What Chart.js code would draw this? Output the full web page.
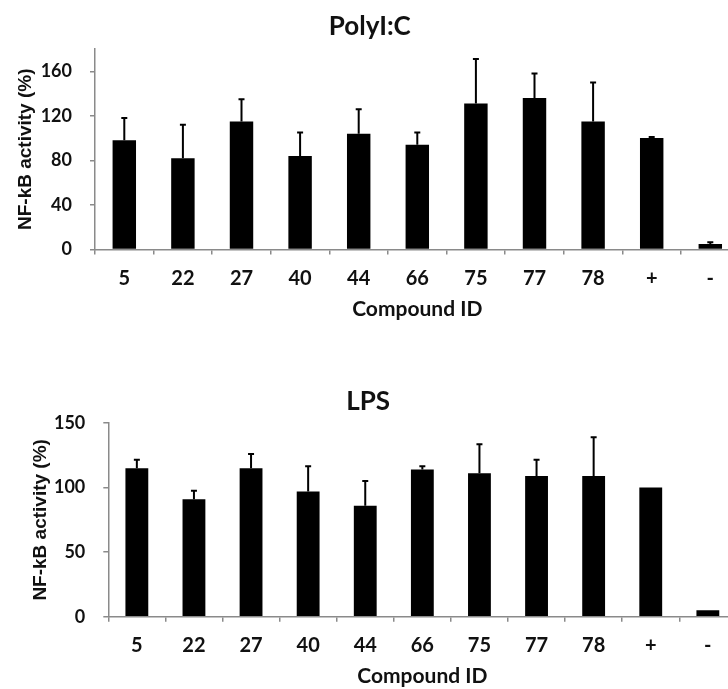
<!DOCTYPE html>
<html>
<head>
<meta charset="utf-8">
<script src="https://cdn.jsdelivr.net/npm/chart.js@4/dist/chart.umd.min.js"></script>
<style>
  html, body { margin: 0; padding: 0; overflow: hidden; background: #fff; width: 728px; height: 689px; }
  canvas { position: absolute; left: 0; }
  #polyic { top: 0; }
  #lps { top: 322px; }
</style>
</head>
<body>
<canvas id="polyic" width="794" height="322"></canvas>
<canvas id="lps" width="834" height="367"></canvas>
<script>
const compounds = ['5', '22', '27', '40', '44', '66', '75', '77', '78', '+', '-'];

// PolyI:C stimulation, % NF-kB activity and upper error
const polyMean = [98, 82, 115, 84, 104, 94, 131, 136, 115, 100, 5];
const polyErr  = [20, 30, 20, 21, 22, 11, 40, 22, 35, 1, 1.5];

// LPS stimulation
const lpsMean = [115, 91, 115, 97, 86, 114, 111, 109, 109, 100, 5];
const lpsErr  = [6.5, 6.5, 11, 19.5, 19, 2.5, 22.5, 12.5, 30, 0, 0];

const axisGrey = '#8a8a8a';
const textCol = '#111';

// upper-only error bars drawn on top of the bars
const errorBars = {
  id: 'errorBars',
  afterDatasetsDraw(chart, args, opts) {
    const ctx = chart.ctx;
    const yScale = chart.scales.y;
    const values = chart.data.datasets[0].data;
    const meta = chart.getDatasetMeta(0);
    ctx.save();
    ctx.strokeStyle = '#000';
    ctx.lineWidth = 2;
    meta.data.forEach((bar, i) => {
      const e = opts.errors[i];
      if (!e) return;
      const top = yScale.getPixelForValue(values[i] + e);
      ctx.beginPath();
      ctx.moveTo(bar.x, bar.y);
      ctx.lineTo(bar.x, top);
      ctx.moveTo(bar.x - 3, top);
      ctx.lineTo(bar.x + 3, top);
      ctx.stroke();
    });
    ctx.restore();
  }
};

function makeChart(id, opts) {
  const ctx = document.getElementById(id).getContext('2d');
  return new Chart(ctx, {
    type: 'bar',
    plugins: [errorBars],
    data: {
      labels: compounds,
      datasets: [{
        data: opts.values,
        backgroundColor: '#000',
        borderWidth: 0,
        categoryPercentage: 1,
        barPercentage: 0.4
      }]
    },
    options: {
      responsive: false,
      animation: false,
      layout: { padding: { left: 0, right: opts.padRight, top: 0, bottom: 0 } },
      plugins: {
        legend: { display: false },
        tooltip: { enabled: false },
        title: {
          display: true,
          text: opts.title,
          color: textCol,
          font: { family: 'Lato', size: 26, weight: 'bold', lineHeight: 1.2 },
          padding: { top: opts.titleTop, bottom: opts.titleBottom }
        },
        errorBars: { errors: opts.errors }
      },
      scales: {
        x: {
          afterFit: s => { s.height = opts.xHeight; },
          grid: { offset: true, drawOnChartArea: false, drawTicks: true, tickLength: 5, color: axisGrey, lineWidth: 1.5 },
          border: { color: axisGrey, width: 1.5 },
          ticks: { color: textCol, padding: 12, font: { family: 'Lato', size: 20, weight: 'bold' } },
          title: {
            display: true,
            text: 'Compound ID',
            color: textCol,
            font: { family: 'Lato', size: 21, weight: 'bold', lineHeight: 1.2 },
            padding: { top: 0, bottom: 0 }
          }
        },
        y: {
          min: 0,
          max: opts.yMax,
          afterFit: s => { s.width = opts.yWidth; },
          afterBuildTicks: s => { s.ticks = s.ticks.filter(t => opts.yTicks.includes(t.value)); },
          grid: { drawOnChartArea: false, drawTicks: true, tickLength: 5, color: axisGrey, lineWidth: 1.5 },
          border: { color: axisGrey, width: 1.5 },
          ticks: { stepSize: opts.yStep, color: textCol, padding: 18, font: { family: 'Lato', size: 18, weight: 'bold' } },
          title: {
            display: true,
            text: 'NF-kB activity (%)',
            color: textCol,
            font: { family: 'Liberation Sans', size: 19, weight: 'bold', lineHeight: 1.2 },
            padding: { top: opts.yTitlePad, bottom: 0 }
          }
        }
      }
    }
  });
}

makeChart('polyic', {
  title: 'PolyI:C',
  values: polyMean,
  errors: polyErr,
  yMax: 180,
  yStep: 40,
  yTicks: [0, 40, 80, 120, 160],
  padRight: 54.4,
  titleTop: 11.4,
  titleBottom: 6.4,
  xHeight: 72.5,
  yWidth: 95,
  yTitlePad: 14.6
});

makeChart('lps', {
  title: 'LPS',
  values: lpsMean,
  errors: lpsErr,
  yMax: 150,
  yStep: 50,
  yTicks: [0, 50, 100, 150],
  padRight: 97.6,
  titleTop: 64.4,
  titleBottom: 5.4,
  xHeight: 72.3,
  yWidth: 108.3,
  yTitlePad: 29.6
});
</script>
</body>
</html>
